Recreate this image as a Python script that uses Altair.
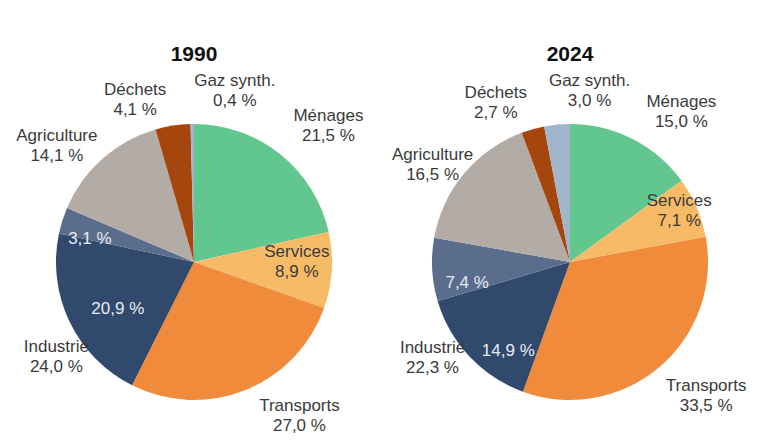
import altair as alt
import pandas as pd

# ---------------- data ----------------
years = ["1990", "2024"]
categories = ["Ménages", "Services", "Transports", "Industrie",
              "Industrie (pointillé)", "Agriculture", "Déchets", "Gaz synth."]
values_1990 = [21.5, 8.9, 27.0, 20.9, 3.1, 14.1, 4.1, 0.4]
values_2024 = [15.0, 7.1, 33.5, 14.9, 7.4, 16.5, 2.7, 3.0]

# ---------------- style ----------------
colors = ["#62c68f", "#f7bb68", "#f08b3b", "#31496c",
          "#5a6d8c", "#b3aca6", "#a5460f", "#a2b6cb"]
FONT = "Liberation Sans"
TEXT_DARK = "#3a3a3a"
TEXT_LIGHT = "#e6ecf4"
PIE_R = 138
CELL_W, CELL_H = 362, 365
CY = 191  # pie centre inside each panel
LINE_H = 20

# label placement tweaks: (key, kind) -> (radius, dx, dy)
layouts = {
    "1990": {
        ("Ménages", "outer"): (175, 25, 1),
        ("Services", "outer"): (103, 0, -6),
        ("Transports", "outer"): (175, 40, -8),
        ("Industrie", "outer"): (175, 20, 19),
        ("Agriculture", "outer"): (175, -21, 15),
        ("Déchets", "outer"): (175, -32, 11),
        ("Gaz synth.", "outer"): (175, 43, 4),
        ("Industrie", "inner"): (89, 4, 8),
        ("Industrie (pointillé)", "inner"): (106, -3, 9),
    },
    "2024": {
        ("Ménages", "outer"): (175, 32, 6),
        ("Services", "outer"): (120, -1, -4),
        ("Transports", "outer"): (175, 23, 0),
        ("Industrie", "outer"): (175, -10, -24),
        ("Agriculture", "outer"): (175, -3, 15),
        ("Déchets", "outer"): (175, -27, 10),
        ("Gaz synth.", "outer"): (175, 36, 3),
        ("Industrie", "inner"): (108, 17, 15),
        ("Industrie (pointillé)", "inner"): (105, 2, 15),
    },
}


def fmt(v):
    return f"{v:.1f}".replace(".", ",") + " %"


rows = []
for year, values in zip(years, [values_1990, values_2024]):
    ind_total = values[3] + values[4]
    for i, (c, v) in enumerate(zip(categories, values)):
        if c == "Industrie":
            outer, inner = f"Industrie\n{fmt(ind_total)}", fmt(v)
        elif c.startswith("Industrie"):
            outer, inner = "", fmt(v)
        else:
            outer, inner = f"{c}\n{fmt(v)}", ""
        rows.append(dict(year=year, key=c, value=v, order=i, outer=outer, inner=inner))
df = pd.DataFrame(rows)

arcs = alt.Chart().mark_arc(radius=PIE_R).encode(
    theta=alt.Theta("value:Q", stack=True),
    order=alt.Order("order:Q"),
    color=alt.Color("key:N", scale=alt.Scale(domain=categories, range=colors), legend=None),
    y=alt.value(CY),
)

text_base = (
    alt.Chart()
    .transform_window(cum="sum(value)", sort=[alt.SortField("order")], groupby=["year"])
    .transform_calculate(mid="datum.cum - datum.value / 2")
)

layers = [arcs]
for year in years:
    for (key, kind), (r, dx, dy) in layouts[year].items():
        col = "outer" if kind == "outer" else "inner"
        tcolor = TEXT_DARK if kind == "outer" else TEXT_LIGHT
        # two-line labels: shift up by half a line so the block is centred
        shift = -LINE_H / 2 if kind == "outer" else 0
        layers.append(
            text_base.transform_filter(
                f"datum.year === '{year}' && datum.key === '{key}'"
            ).mark_text(
                radius=r, dx=dx, dy=dy + shift, lineBreak="\n", lineHeight=LINE_H,
                font=FONT, fontSize=17, color=tcolor, baseline="middle", align="center",
            ).encode(
                theta=alt.Theta("mid:Q", stack=None),
                y=alt.value(CY),
                text=alt.Text(f"{col}:N"),
            )
        )

chart = (
    alt.layer(*layers, data=df)
    .properties(width=CELL_W, height=CELL_H)
    .facet(
        column=alt.Column(
            "year:N",
            header=alt.Header(title=None, labelFontSize=21, labelFont=FONT,
                              labelFontWeight="bold", labelColor="#111111",
                              labelPadding=6),
        ),
        spacing=14,
    )
    .resolve_scale(theta="independent")
    .properties(padding={"left": 5, "top": 36, "right": 5, "bottom": 0},
                background="white")
    .configure_view(strokeWidth=0)
)

chart.save("out.html", embed_options={"renderer": "svg", "actions": False})
